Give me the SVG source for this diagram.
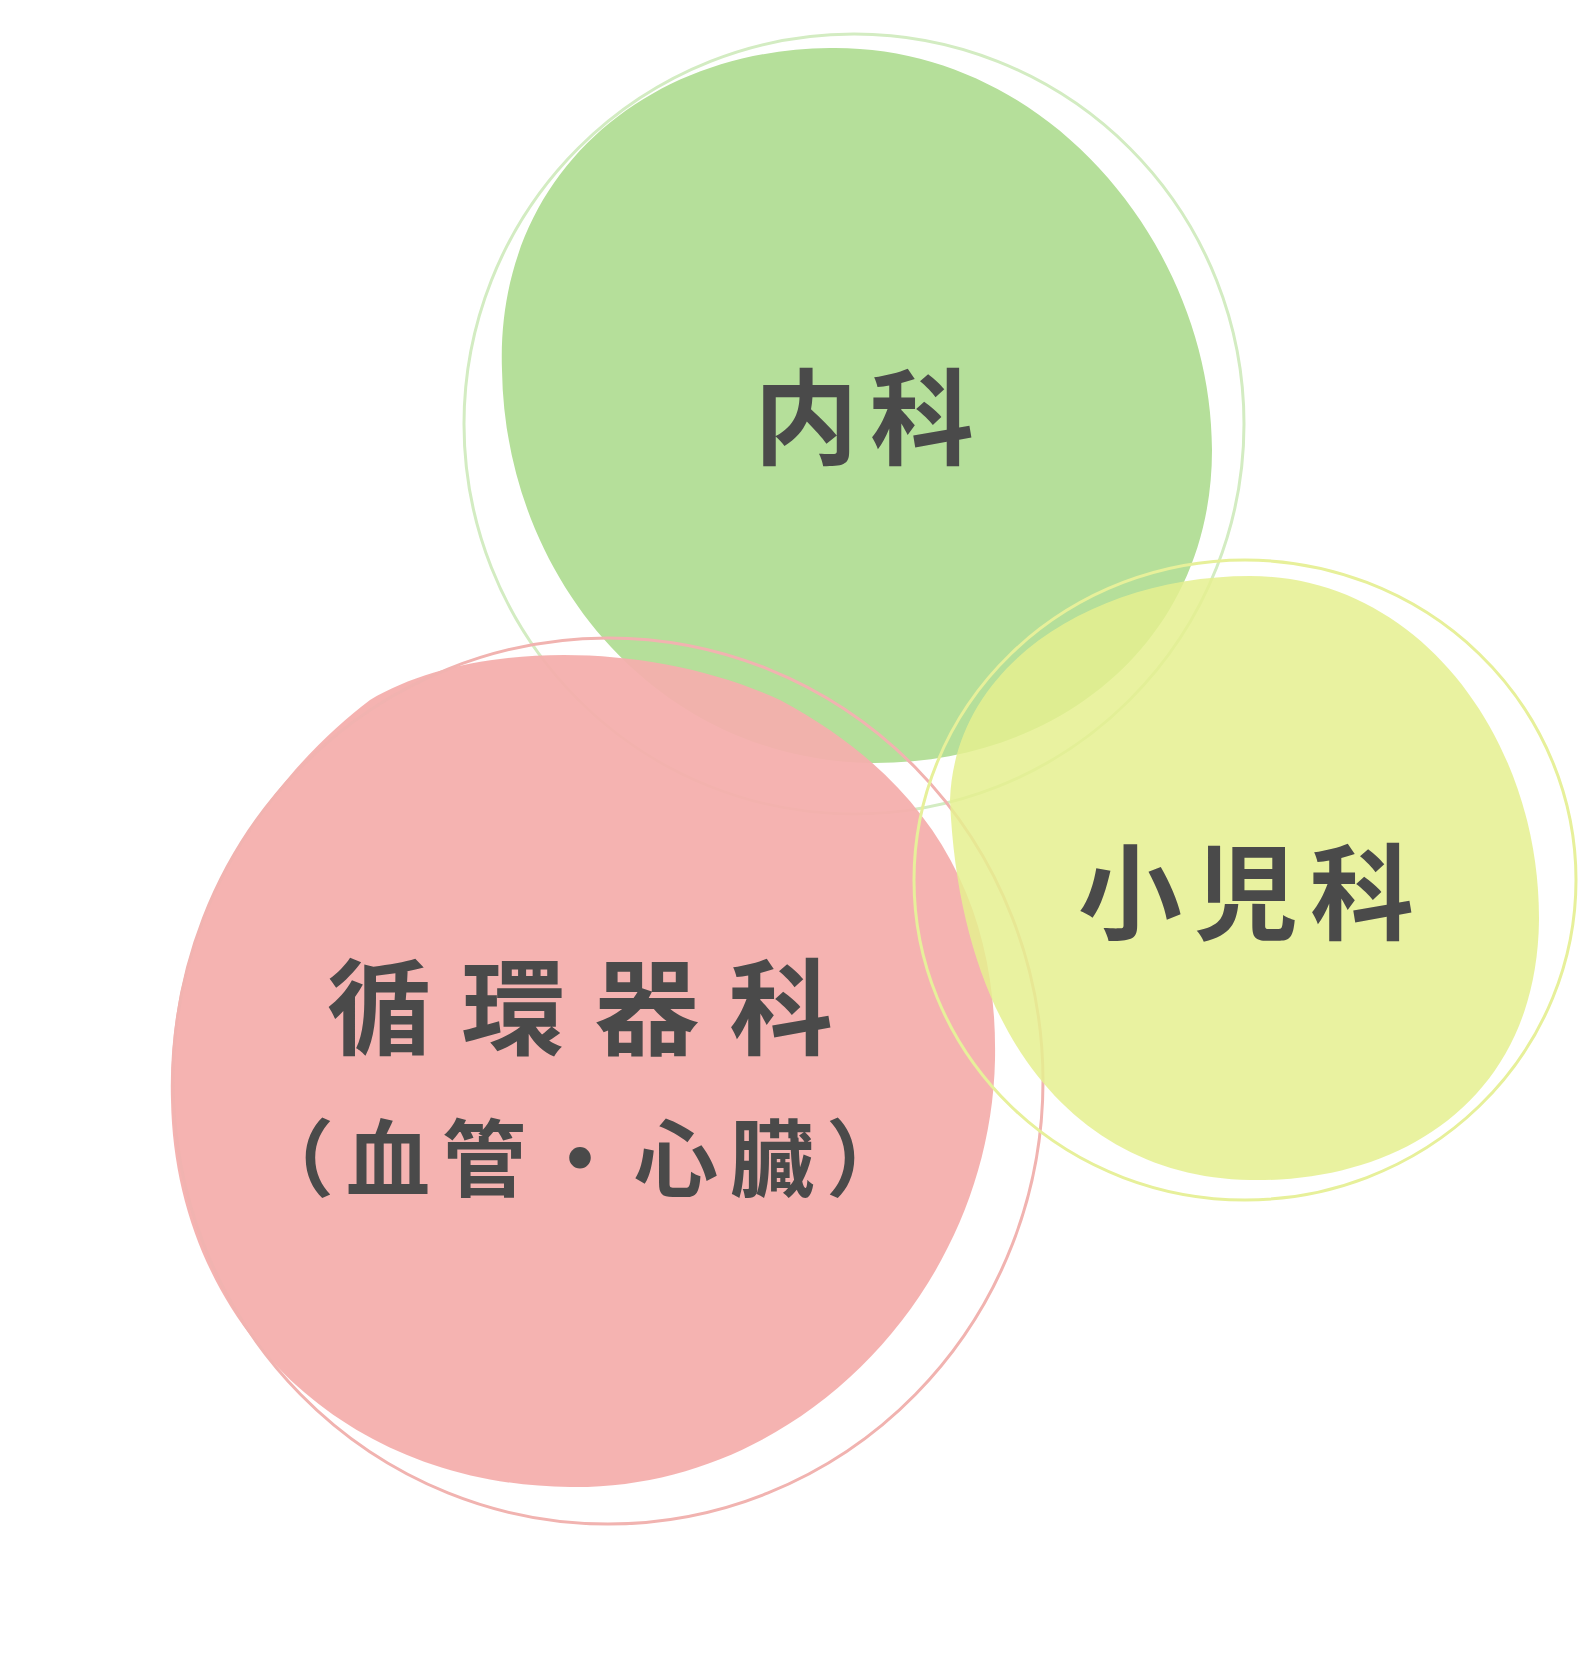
<svg xmlns="http://www.w3.org/2000/svg" width="1580" height="1676" viewBox="0 0 1580 1676">
<style>
text{font-family:"Noto Sans CJK JP",sans-serif;font-weight:bold;fill:#4a4a4a;text-anchor:middle;dominant-baseline:central}
.big{font-size:104px;letter-spacing:12px}
.wide{letter-spacing:30px}
.sub{font-size:84px;letter-spacing:12px}
</style>
<rect width="1580" height="1676" fill="#fff"/>
<g id="naika">
<path d="M502,370 C495,180 640,50 830,48 C1050,45 1212,250 1212,450 C1212,640 1060,765 870,763 C660,760 505,580 502,370 Z" fill="#b5df9a"/>
<circle cx="854" cy="424" r="390" fill="none" stroke="#d3ecc2" stroke-width="3"/>
</g>
<g id="junkanki">
<path d="M171,1100 C165,900 290,760 370,700 C470,640 650,640 780,700 C930,780 998,900 995,1060 C990,1290 800,1490 570,1487 C340,1485 175,1320 171,1100 Z" fill="#f4afad" fill-opacity="0.95"/>
<ellipse cx="608" cy="1081" rx="435" ry="443" fill="none" stroke="#f1b3b0" stroke-width="3"/>
</g>
<g id="shonika">
<path d="M950,800 C955,660 1100,576 1250,576 C1420,576 1540,740 1539,920 C1537,1100 1400,1183 1250,1180 C1080,1177 960,1040 950,800 Z" fill="#e5f08f" fill-opacity="0.85"/>
<ellipse cx="1245" cy="880" rx="331" ry="320" fill="none" stroke="#e7f09a" stroke-width="3"/>
</g>
<g id="labels">
<text class="big" x="870" y="411">内科</text>
<text class="big" x="1252" y="886">小児科</text>
<text class="big wide" x="595" y="1001">循環器科</text>
<text class="sub" x="586" y="1153">（血管・心臓）</text>
</g>
<g id="connectors"/>
</svg>
